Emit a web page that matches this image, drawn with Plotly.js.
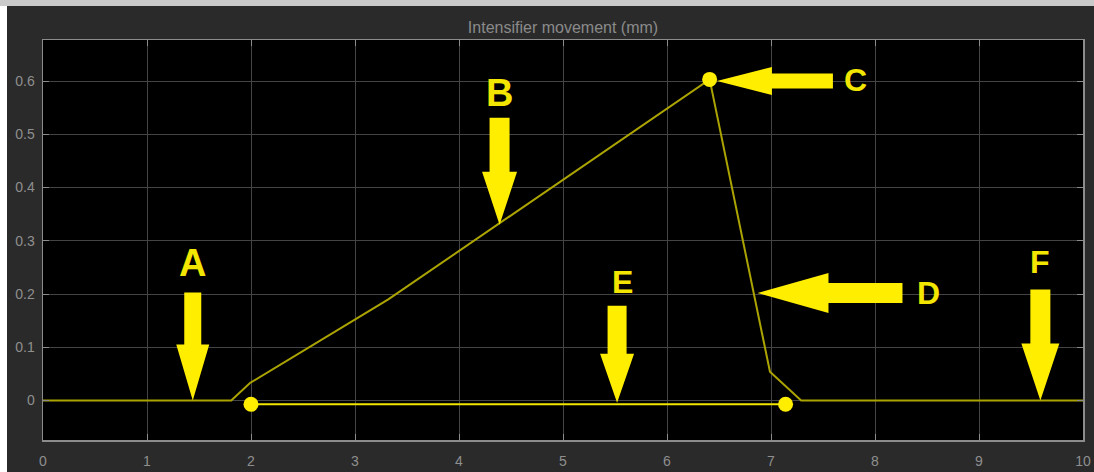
<!DOCTYPE html>
<html>
<head>
<meta charset="utf-8">
<script src="https://cdn.plot.ly/plotly-3.0.1.min.js"></script>
<style>
  html, body { margin: 0; padding: 0; width: 1094px; height: 472px; background: #ffffff; overflow: hidden; }
  #topbar { position: absolute; left: 0; top: 0; width: 1094px; height: 6px; background: #c9c9c9; }
  #chart { position: absolute; left: 7px; top: 6px; width: 1087px; height: 466px; }
</style>
</head>
<body>
<div id="topbar"></div>
<div id="chart"></div>
<script>
// Intensifier path (mm)
const pathX = [0, 1.81, 1.99, 3.32, 6.41, 6.99, 7.29, 10];
const pathY = [0, 0, 0.033, 0.19, 0.603, 0.054, 0, 0];
// Return segment with end markers
const returnX = [2, 7.14];
const returnY = [-0.007, -0.007];
// Peak marker
const peakX = [6.41];
const peakY = [0.603];
// Annotation arrows
const arrowLabels = ['A', 'B', 'C', 'D', 'E', 'F'];
const arrowTipX = [1.44, 4.39, 6.48, 6.87, 5.52, 9.59];
const arrowTipY = [0, 0.33, 0.6, 0.202, -0.004, 0];
const labelX = [1.44, 4.39, 7.81, 8.51, 5.57, 9.59];
const labelY = [0.258, 0.577, 0.601, 0.202, 0.223, 0.26];
const xTicks = [0, 1, 2, 3, 4, 5, 6, 7, 8, 9, 10];
const yTicks = [0, 0.1, 0.2, 0.3, 0.4, 0.5, 0.6];

// arrow styling (pixels): direction, total length, head length, head half-width, shaft half-width
const arrowStyle = [
  {dir: 'down', L: 108, H: 56, W: 16.5, S: 8.5, fs: 38},
  {dir: 'down', L: 107, H: 53, W: 17.5, S: 10, fs: 38},
  {dir: 'left', L: 116, H: 55, W: 14, S: 7.5, fs: 32},
  {dir: 'left', L: 145, H: 71, W: 20, S: 10, fs: 32},
  {dir: 'down', L: 97, H: 49, W: 17, S: 9.5, fs: 32},
  {dir: 'down', L: 111, H: 57, W: 19, S: 10, fs: 32}
];
const arrowColor = '#ffee00';

const shapes = [];
const annotations = [];
arrowLabels.forEach((lab, i) => {
  const s = arrowStyle[i];
  let p;
  if (s.dir === 'down') {
    p = `M0,0 L${-s.W},${s.H} L${-s.S},${s.H} L${-s.S},${s.L} L${s.S},${s.L} L${s.S},${s.H} L${s.W},${s.H} Z`;
  } else {
    p = `M0,0 L${s.H},${s.W} L${s.H},${s.S} L${s.L},${s.S} L${s.L},${-s.S} L${s.H},${-s.S} L${s.H},${-s.W} Z`;
  }
  shapes.push({
    type: 'path', xref: 'x', yref: 'y',
    xsizemode: 'pixel', ysizemode: 'pixel',
    xanchor: arrowTipX[i], yanchor: arrowTipY[i],
    path: p, fillcolor: arrowColor, line: {width: 0}, layer: 'above'
  });
  annotations.push({
    x: labelX[i], y: labelY[i], xref: 'x', yref: 'y', text: '<b>' + lab + '</b>',
    showarrow: false, xanchor: 'center', yanchor: 'middle',
    font: {family: 'Liberation Sans, Arial, sans-serif', size: s.fs, color: '#f2e600'}
  });
});

const traces = [
  {x: pathX, y: pathY, type: 'scatter', mode: 'lines',
   line: {color: '#aba400', width: 2}, hoverinfo: 'skip'},
  {x: returnX, y: returnY, type: 'scatter', mode: 'lines+markers',
   line: {color: '#f2e600', width: 2}, marker: {color: '#ffee00', size: 15}, hoverinfo: 'skip'},
  {x: peakX, y: peakY, type: 'scatter', mode: 'markers',
   marker: {color: '#ffee00', size: 15}, hoverinfo: 'skip'}
];

const axisCommon = {
  showgrid: true, gridcolor: '#444444', gridwidth: 1,
  zeroline: false, showline: true, linecolor: '#8c8c8c', linewidth: 1.5, mirror: 'ticks',
  ticks: 'inside', ticklen: 6, tickcolor: '#8c8c8c', tickwidth: 1,
  tickfont: {family: 'Liberation Sans, Arial, sans-serif', size: 14, color: '#8f8f8f'}
};

const layout = {
  width: 1087, height: 466,
  paper_bgcolor: '#2a2a2a', plot_bgcolor: '#000000',
  margin: {l: 36, r: 11, t: 34, b: 32},
  showlegend: false,
  title: {text: 'Intensifier movement (mm)', xref: 'paper', x: 0.5, xanchor: 'center', y: 0.955, yanchor: 'middle',
          font: {family: 'Liberation Sans, Arial, sans-serif', size: 16, color: '#8a8a8a'}},
  xaxis: Object.assign({}, axisCommon, {range: [0, 10], tickvals: xTicks, ticktext: xTicks.map(String), ticklabelstandoff: 8}),
  yaxis: Object.assign({}, axisCommon, {range: [-0.074, 0.677], tickvals: yTicks, ticktext: yTicks.map(String), ticklabelstandoff: 4}),
  shapes: shapes,
  annotations: annotations
};

Plotly.newPlot('chart', traces, layout, {displayModeBar: false, staticPlot: true});
</script>
</body>
</html>
